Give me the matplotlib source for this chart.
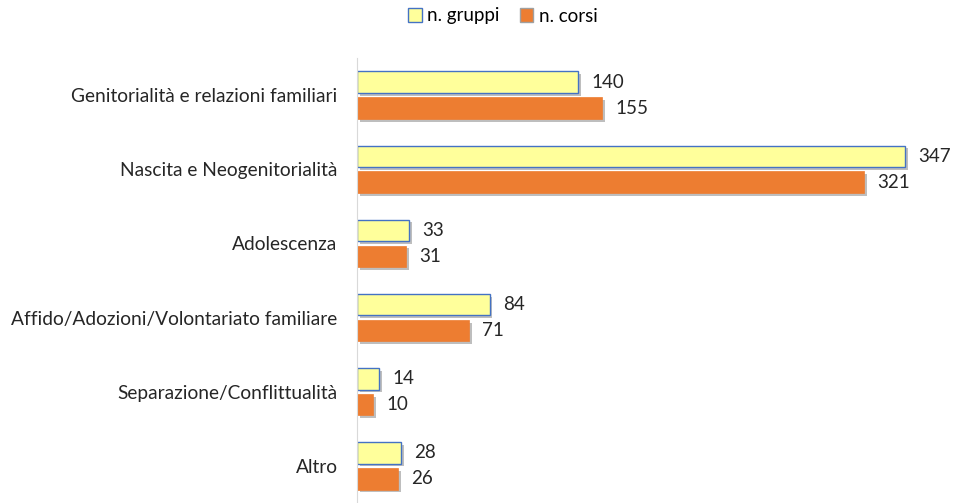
import numpy as np
import matplotlib
matplotlib.use('Agg')
import matplotlib.pyplot as plt
import matplotlib.patheffects as pe
from matplotlib.patches import Patch

categories = ['Genitorialità e relazioni familiari', 'Nascita e Neogenitorialità', 'Adolescenza',
              'Affido/Adozioni/Volontariato familiare', 'Separazione/Conflittualità', 'Altro']
gruppi = [140, 347, 33, 84, 14, 28]
corsi = [155, 321, 31, 71, 10, 26]

plt.rcParams['font.family'] = ['Lato', 'DejaVu Sans']

fig = plt.figure(figsize=(9.54, 5.03), dpi=100)
ax = fig.add_axes([357 / 954, 0, (940 - 357) / 954, (503 - 58) / 503])

y = np.arange(len(categories))
h = 0.29
shadow = [pe.SimplePatchShadow(offset=(2, -2), shadow_rgbFace='#7f7f7f', alpha=0.5), pe.Normal()]

b1 = ax.barh(y - 0.175, gruppi, height=h, color='#FFFF9B', edgecolor='#4472C4', linewidth=1.0)
b2 = ax.barh(y + 0.175, corsi, height=h, color='#ED7D31', edgecolor='#ED7D31', linewidth=0.5)
for b in list(b1) + list(b2):
    b.set_path_effects(shadow)

# etichette valori
for yi, v in zip(y, gruppi):
    ax.annotate(str(v), (v, yi - 0.175), xytext=(9.5, 0), textcoords='offset points',
                va='center', ha='left', fontsize=13.5, color='#262626')
for yi, v in zip(y, corsi):
    ax.annotate(str(v), (v, yi + 0.175), xytext=(9.5, 0), textcoords='offset points',
                va='center', ha='left', fontsize=13.5, color='#262626')

ax.set_xlim(0, (940 - 357) / 1.579)
ax.set_ylim(len(categories) - 0.5, -0.5)
ax.set_yticks(y)
ax.set_yticklabels(categories, fontsize=13.8, color='#262626')
ax.tick_params(axis='y', length=0, pad=14)
ax.set_xticks([])
for s in ['top', 'right', 'bottom']:
    ax.spines[s].set_visible(False)
ax.spines['left'].set_color('#d9d9d9')

handles = [Patch(facecolor='#FFFF9B', edgecolor='#4472C4', label='n. gruppi'),
           Patch(facecolor='#ED7D31', edgecolor='#a0a0a0', label='n. corsi')]
fig.legend(handles=handles, loc='center', bbox_to_anchor=(503 / 954, 1 - 16 / 503), ncol=2,
           frameon=False, fontsize=13.5, handlelength=0.7, handleheight=0.7,
           handletextpad=0.3, columnspacing=1.1)

fig.savefig('out.png', dpi=100)
